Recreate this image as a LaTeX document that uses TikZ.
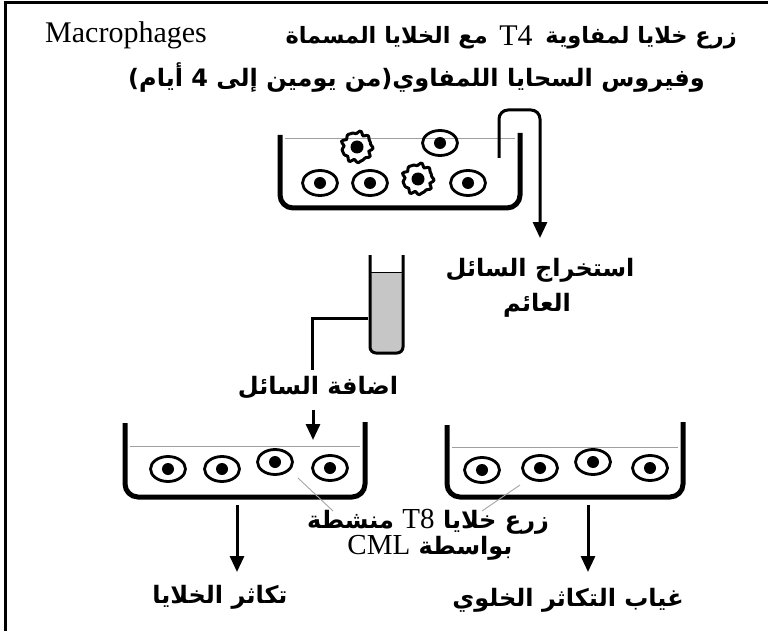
\documentclass[tikz,border=0pt]{standalone}
\usepackage{fontspec}
\setmainfont{Liberation Serif}
\newfontfamily\arfont[Script=Arabic]{DejaVu Sans}
\TeXXeTstate=1
\usetikzlibrary{arrows.meta}

\tikzset{
  wall/.style={line width=5pt, rounded corners=13pt},
  liquid/.style={line width=1pt, draw=gray!75},
  pipe/.style={line width=3pt},
  flow/.style={line width=3pt, -{Triangle[width=14pt,length=16pt]}},
  lbl/.style={font=\arfont\bfseries\fontsize{24}{26}\selectfont, inner sep=0pt},
  head/.style={font=\arfont\bfseries\fontsize{22.5}{26}\selectfont, inner sep=0pt},
  lat/.style={font=\rmfamily\fontsize{30}{32}\selectfont, inner sep=0pt},
  pointer/.style={line width=0.9pt, draw=gray!70},
  tcell/.pic={
    \draw[line width=2.8pt] (0,0) ellipse (17.5pt and 12.5pt);
    \fill (0,0) circle (6pt);
  },
  macro/.pic={
    \draw[line width=3pt]
      plot[smooth cycle, domain=0:355, samples=72]
      (\x:{14.5+1.1*cos(9*\x)+0.7*sin(13*\x)});
    \fill (0,0) circle (6.5pt);
  }
}

\begin{document}
\begin{tikzpicture}[x=1pt, y=-1pt]
  \useasboundingbox (0,0) rectangle (768,631);
  \fill[white] (0,0) rectangle (768,631);
  % frame
  \draw[line width=3pt] (5,631) -- (5,3) -- (768,3);

  % heading
  \node[head, anchor=east] (h1) at (737,38)
    {\beginR زرع خلايا لمفاوية\endR};
  \node[lat] (h1b) at (516,36) {T4};
  \node[head, anchor=east] (h1c) at (488,38) {\beginR مع الخلايا المسماة\endR};
  \node[lat, anchor=west] (h1d) at (45,35) {Macrophages};
  \node[lbl, anchor=east] (h2) at (705,78)
    {\beginR وفيروس السحايا اللمفاوي(من يومين إلى 4 أيام)\endR};

  % first culture dish
  \draw[liquid] (285,139) -- (515,139);
  \draw[wall] (280,135) -- (280,208) -- (520,208) -- (520,133);
  \pic at (357,147) {macro};
  \pic at (440,143) {tcell};
  \pic at (320,183) {tcell};
  \pic at (370,183) {tcell};
  \pic at (418,179) {macro};
  \pic at (468,183) {tcell};

  % siphon drawing off the supernatant
  \coordinate (s0) at (499,158);
  \coordinate (s1) at (540,238);
  \draw[flow, rounded corners=9pt] (s0) -- (499,110) -- (540,110) -- (s1);

  \node[lbl] (ex1) at (540,270) {\beginR استخراج السائل\endR};
  \node[lbl] (ex2) at (537,305) {\beginR العائم\endR};

  % test tube with the supernatant
  \fill[gray!45, rounded corners=5pt] (370,272) -- (370,353) -- (403,353) -- (403,272) -- cycle;
  \draw[line width=1pt] (370,272) -- (403,272);
  \draw[line width=3pt, rounded corners=6pt] (370,255) -- (370,353) -- (403,353) -- (403,255);
  \coordinate (tube) at (368,318);

  \node[lbl] (add) at (318,388) {\beginR اضافة السائل\endR};
  \draw[pipe] (tube) -- (312,318) -- (312,370);
  \coordinate (a0) at (313,410);
  \coordinate (a1) at (313,440);
  \draw[flow] (a0) -- (a1);

  % second culture dish (with supernatant)
  \draw[liquid] (130,446) -- (360,446);
  \draw[wall] (125,423) -- (125,497) -- (365,497) -- (365,422);
  \pic at (168,469) {tcell};
  \pic at (222,469) {tcell};
  \pic at (275,462) {tcell};
  \pic at (330,468) {tcell};

  % third culture dish (control)
  \draw[liquid] (452,447) -- (678,447);
  \draw[wall] (447,425) -- (447,497) -- (683,497) -- (683,422);
  \pic at (482,470) {tcell};
  \pic at (540,468) {tcell};
  \pic at (593,462) {tcell};
  \pic at (650,468) {tcell};

  % shared label for the T8 cultures
  \node[lbl] (t8a) at (428,522)
    {\beginR زرع خلايا \beginL{\rmfamily\mdseries\fontsize{29}{30}\selectfont T8}\endL{} منشطة\endR};
  \node[lbl] (t8b) at (430,548)
    {\beginR بواسطة \beginL{\rmfamily\mdseries\fontsize{29}{30}\selectfont CML}\endL\endR};
  \coordinate (p1) at (298,478);
  \coordinate (p2) at (520,485);
  \draw[pointer] (p1) -- (333,511);
  \draw[pointer] (p2) -- (482,511);

  % results
  \coordinate (r0) at (237,505);
  \coordinate (r1) at (237,572);
  \draw[flow] (r0) -- (r1);
  \node[lbl] (res1) at (220,597) {\beginR تكاثر الخلايا\endR};

  \coordinate (q0) at (588,505);
  \coordinate (q1) at (588,572);
  \draw[flow] (q0) -- (q1);
  \node[lbl] (res2) at (568,600) {\beginR غياب التكاثر الخلوي\endR};
\end{tikzpicture}
\end{document}
